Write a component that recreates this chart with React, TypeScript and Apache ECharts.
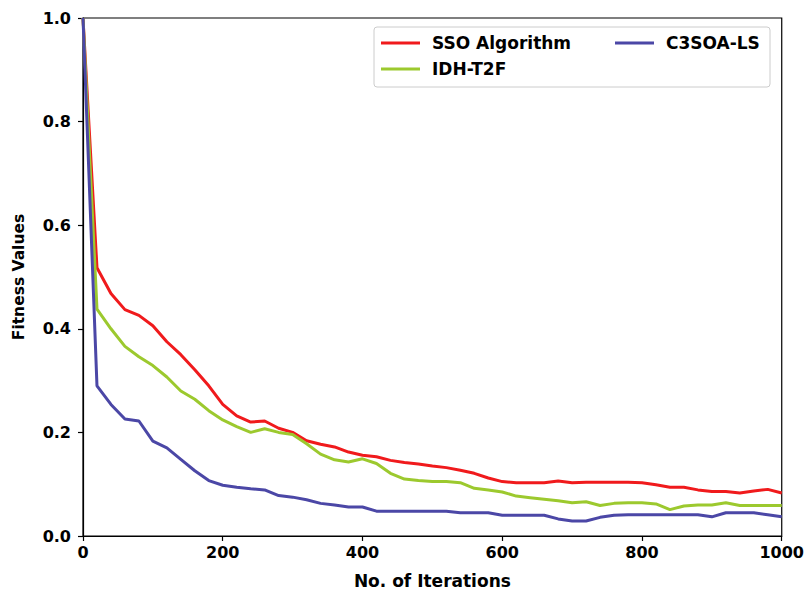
import React, { useEffect, useRef } from "react";
import * as echarts from "echarts";

// Iteration counts sampled every 20 steps
const iterations: number[] = [
  0, 20, 40, 60, 80, 100, 120, 140, 160, 180, 200, 220, 240, 260, 280, 300, 320, 340, 360, 380,
  400, 420, 440, 460, 480, 500, 520, 540, 560, 580, 600, 620, 640, 660, 680, 700, 720, 740, 760, 780,
  800, 820, 840, 860, 880, 900, 920, 940, 960, 980, 1000,
];

const ssoValues: number[] = [
  1.0, 0.518, 0.468, 0.437, 0.426, 0.406, 0.375, 0.35, 0.321, 0.29, 0.254, 0.232, 0.22, 0.222, 0.208,
  0.2, 0.184, 0.177, 0.172, 0.162, 0.156, 0.153, 0.146, 0.142, 0.139, 0.135, 0.132, 0.127, 0.121, 0.112,
  0.105, 0.103, 0.103, 0.103, 0.106, 0.103, 0.104, 0.104, 0.104, 0.104, 0.103, 0.099, 0.094, 0.094,
  0.089, 0.086, 0.086, 0.083, 0.087, 0.09, 0.083,
];

const idhValues: number[] = [
  1.0, 0.438, 0.4, 0.366, 0.346, 0.329, 0.307, 0.28, 0.264, 0.242, 0.224, 0.211, 0.2, 0.207, 0.2,
  0.196, 0.178, 0.158, 0.147, 0.143, 0.149, 0.14, 0.121, 0.11, 0.107, 0.105, 0.105, 0.103, 0.092, 0.089,
  0.085, 0.077, 0.074, 0.071, 0.068, 0.064, 0.066, 0.059, 0.063, 0.064, 0.064, 0.062, 0.051, 0.058,
  0.06, 0.06, 0.064, 0.059, 0.059, 0.059, 0.059,
];

const c3soaValues: number[] = [
  1.0, 0.29, 0.254, 0.226, 0.222, 0.183, 0.17, 0.148, 0.126, 0.107, 0.098, 0.094, 0.091, 0.089, 0.078,
  0.075, 0.07, 0.063, 0.06, 0.056, 0.056, 0.048, 0.048, 0.048, 0.048, 0.048, 0.048, 0.045, 0.045, 0.045,
  0.04, 0.04, 0.04, 0.04, 0.033, 0.029, 0.029, 0.036, 0.04, 0.041, 0.041, 0.041, 0.041, 0.041, 0.041,
  0.037, 0.045, 0.045, 0.045, 0.041, 0.037,
];

const seriesNames = ["SSO Algorithm", "IDH-T2F", "C3SOA-LS"];
const seriesColors = ["#f01a1c", "#9cc92e", "#4b47a6"];

const FONT = "DejaVu Sans";

const pairs = (ys: number[]) => iterations.map((x, i) => [x, ys[i]]);

export default function App() {
  const ref = useRef<HTMLDivElement>(null);

  useEffect(() => {
    if (!ref.current) return;
    const chart = echarts.init(ref.current, undefined, { renderer: "svg" });

    const legendItem = (name: string, left: number, top: number) => ({
      show: true,
      data: [name],
      left,
      top,
      padding: 0,
      z: 10,
      icon: "rect",
      itemWidth: 39,
      itemHeight: 3,
      textStyle: {
        fontFamily: FONT,
        fontWeight: "bold",
        fontSize: 17,
        color: "#000",
        padding: [0, 0, 0, 7],
        lineHeight: 20,
      },
    });

    const allValues = [ssoValues, idhValues, c3soaValues];

    chart.setOption({
      animation: false,
      backgroundColor: "#fff",
      grid: {
        left: 83,
        right: 23,
        top: 18,
        bottom: 53,
        show: true,
        borderColor: "#000",
        borderWidth: 1.2,
      },
      graphic: [
        {
          type: "rect",
          shape: { x: 374, y: 27, width: 396, height: 60, r: 3 },
          style: { fill: "rgba(255,255,255,0.8)", stroke: "#cccccc", lineWidth: 1 },
          z: 5,
        },
      ],
      legend: [
        legendItem(seriesNames[0], 381, 33),
        legendItem(seriesNames[1], 381, 59),
        legendItem(seriesNames[2], 615, 33),
      ],
      xAxis: {
        type: "value",
        min: 0,
        max: 1000,
        interval: 200,
        name: "No. of Iterations",
        nameLocation: "middle",
        nameGap: 36,
        nameTextStyle: { fontFamily: FONT, fontWeight: "bold", fontSize: 17, color: "#000" },
        axisLine: { show: true, lineStyle: { color: "#000", width: 1.2 } },
        axisTick: { show: true, inside: false, length: 5, lineStyle: { color: "#000", width: 1.2 } },
        axisLabel: {
          fontFamily: FONT,
          fontWeight: "bold",
          fontSize: 16,
          color: "#000",
          margin: 8,
          formatter: (v: number) => String(v),
        },
        splitLine: { show: false },
      },
      yAxis: {
        type: "value",
        min: 0,
        max: 1,
        interval: 0.2,
        name: "Fitness Values",
        nameLocation: "middle",
        nameGap: 56,
        nameTextStyle: { fontFamily: FONT, fontWeight: "bold", fontSize: 15.5, color: "#000" },
        axisLine: { show: true, lineStyle: { color: "#000", width: 1.2 } },
        axisTick: { show: true, inside: false, length: 5, lineStyle: { color: "#000", width: 1.2 } },
        axisLabel: {
          fontFamily: FONT,
          fontWeight: "bold",
          fontSize: 16,
          color: "#000",
          margin: 12,
          formatter: (v: number) => v.toFixed(1),
        },
        splitLine: { show: false },
      },
      series: seriesNames.map((name, i) => ({
        name,
        type: "line",
        data: pairs(allValues[i]),
        showSymbol: false,
        symbol: "none",
        lineStyle: { color: seriesColors[i], width: 3 },
        itemStyle: { color: seriesColors[i] },
        z: 2,
      })),
    });

    return () => chart.dispose();
  }, []);

  return <div ref={ref} style={{ width: 807, height: 594, position: "absolute", left: 0, top: 0 }} />;
}
